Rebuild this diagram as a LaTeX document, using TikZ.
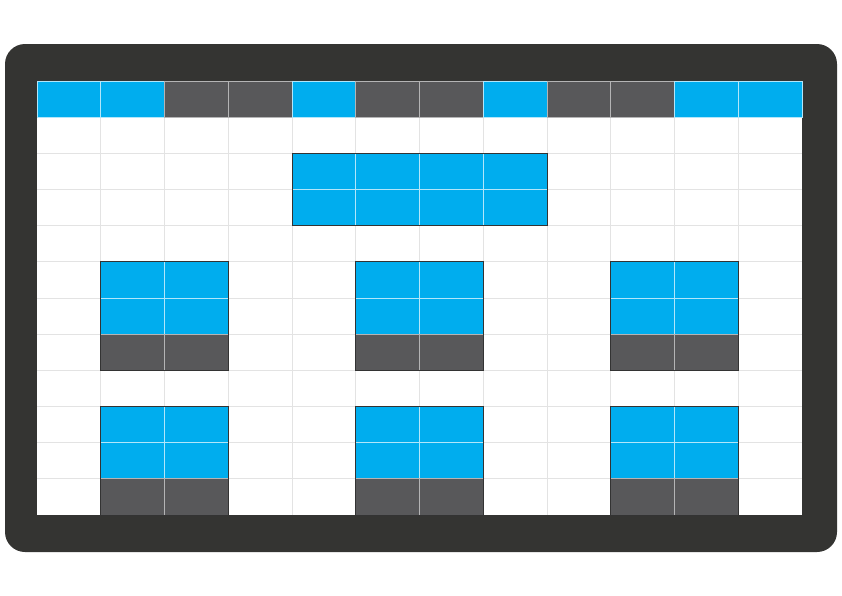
\documentclass[tikz,border=0pt]{standalone}
\definecolor{cblue}{HTML}{00ADEE}
\definecolor{cgray}{HTML}{58585A}
\definecolor{cframe}{HTML}{343432}
\definecolor{cgrid}{HTML}{E3E3E3}
\tikzset{
  bluecell/.style={fill=cblue, draw=white!70!cblue, line width=0.8pt},
  graycell/.style={fill=cgray, draw=white!55!cgray, line width=0.8pt},
  blockedge/.style={draw=black!80, line width=0.8pt},
  gridline/.style={draw=cgrid, line width=0.7pt}
}
\begin{document}
\begin{tikzpicture}[x=1pt,y=-1pt]
\useasboundingbox (0,0) rectangle (842,595);
\fill[white] (0,0) rectangle (842,595);
\fill[cframe, rounded corners=20pt] (5,44) rectangle (837,552);
\fill[white] (37,81) rectangle (802,515);
\def\cw{63.75}
\def\rh{36.1667}
% grid
\foreach \i in {1,...,11} {
  \draw[gridline] ({37+\i*\cw},81) -- ({37+\i*\cw},515);
  \draw[gridline] (37,{81+\i*\rh}) -- (802,{81+\i*\rh});
}
% cell macro: column, row, style
\newcommand{\cellat}[3]{\path[#3] ({37+#1*\cw},{81+#2*\rh}) rectangle ({37+(#1+1)*\cw},{81+(#2+1)*\rh});}
% top row
\foreach \c/\s in {0/bluecell,1/bluecell,2/graycell,3/graycell,4/bluecell,5/graycell,6/graycell,7/bluecell,8/graycell,9/graycell,10/bluecell,11/bluecell} {
  \cellat{\c}{0}{\s}
}
% big block
\foreach \c in {4,...,7} { \foreach \r in {2,3} { \cellat{\c}{\r}{bluecell} } }
\draw[blockedge] ({37+4*\cw},{81+2*\rh}) rectangle ({37+8*\cw},{81+4*\rh});
% small blocks
\foreach \c in {1,5,9} {
  \foreach \r in {5,9} {
    \pgfmathtruncatemacro{\cc}{\c+1}
    \pgfmathtruncatemacro{\ra}{\r+1}
    \pgfmathtruncatemacro{\rb}{\r+2}
    \cellat{\c}{\r}{bluecell}
    \cellat{\cc}{\r}{bluecell}
    \cellat{\c}{\ra}{bluecell}
    \cellat{\cc}{\ra}{bluecell}
    \cellat{\c}{\rb}{graycell}
    \cellat{\cc}{\rb}{graycell}
    \draw[blockedge] ({37+\c*\cw},{81+\r*\rh}) rectangle ({37+(\c+2)*\cw},{81+(\r+3)*\rh});
  }
}
\end{tikzpicture}
\end{document}
